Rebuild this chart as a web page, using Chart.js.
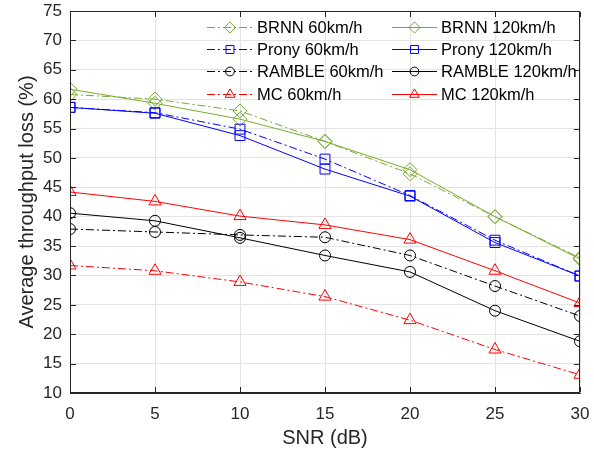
<!DOCTYPE html>
<html><head><meta charset="utf-8">
<script src="https://cdn.jsdelivr.net/npm/chart.js@4/dist/chart.umd.min.js"></script>
<style>html,body{margin:0;padding:0;background:#fff}#wrap{width:594px;height:452px}</style>
</head><body><div id="wrap"><canvas id="c" width="594" height="452"></canvas></div>
<script>
const snr = [0, 5, 10, 15, 20, 25, 30];
const brnn60 = [60.8, 60.0, 58.0, 52.8, 47.3, 40.0, 33.0];
const brnn120 = [61.7, 59.3, 56.6, 52.8, 48.0, 40.0, 32.8];
const prony60 = [58.6, 57.7, 54.9, 49.8, 43.6, 36.0, 29.9];
const prony120 = [58.6, 57.6, 53.8, 48.1, 43.5, 35.6, 29.9];
const ramble60 = [37.9, 37.4, 36.9, 36.5, 33.4, 28.2, 23.1];
const ramble120 = [40.6, 39.3, 36.4, 33.4, 30.6, 24.0, 18.8];
const mc60 = [31.7, 30.8, 28.9, 26.4, 22.4, 17.4, 13.1];
const mc120 = [44.2, 42.6, 40.1, 38.6, 36.1, 30.8, 25.3];
const yTicks = [10,15,20,25,30,35,40,45,50,55,60,65,70,75];

const GREEN = '#77AC30', BLUE = '#0000FF', BLACK = '#000000', RED = '#FF0000';
const DASHDOT = [8, 3, 2, 3];
const pts = arr => arr.map((v, i) => ({x: snr[i], y: v}));
function ds(label, arr, color, style, dashed, r) {
  return {label, data: pts(arr), borderColor: color, backgroundColor: color,
    borderWidth: 1, borderDash: dashed ? DASHDOT : [], pointStyle: style,
    pointRadius: r, pointBorderColor: color, pointBackgroundColor: 'rgba(0,0,0,0)',
    pointBorderWidth: 1, tension: 0, fill: false};
}
const datasets = [
  ds('BRNN 60km/h', brnn60, GREEN, 'rectRot', true, 7),
  ds('Prony 60km/h', prony60, BLUE, 'rect', true, 7),
  ds('RAMBLE 60km/h', ramble60, BLACK, 'circle', true, 5.5),
  ds('MC 60km/h', mc60, RED, 'triangle', true, 7),
  ds('BRNN 120km/h', brnn120, GREEN, 'rectRot', false, 7),
  ds('Prony 120km/h', prony120, BLUE, 'rect', false, 7),
  ds('RAMBLE 120km/h', ramble120, BLACK, 'circle', false, 5.5),
  ds('MC 120km/h', mc120, RED, 'triangle', false, 7),
];

const FONT = '"Liberation Sans", Arial, Helvetica, sans-serif';
const framePlugin = {
  id: 'frame',
  afterDraw(chart) {
    const ctx = chart.ctx, a = chart.chartArea;
    const L = Math.round(a.left), R = Math.round(a.right) - 1;
    const T = Math.round(a.top), B = Math.round(a.bottom) - 1;
    ctx.save();
    ctx.fillStyle = '#262626';
    ctx.fillRect(L, T, R - L + 1, 1);
    ctx.fillRect(L, B, R - L + 1, 1);
    ctx.fillRect(L, T, 1, B - T + 1);
    ctx.fillRect(R, T, 1, B - T + 1);
    const xs = chart.scales.x, ys = chart.scales.y, tl = 5;
    snr.forEach(v => {
      const px = Math.round(xs.getPixelForValue(v));
      ctx.fillRect(px, B - tl, 1, tl);
      ctx.fillRect(px, T + 1, 1, tl);
    });
    yTicks.forEach(v => {
      const py = Math.round(ys.getPixelForValue(v));
      ctx.fillRect(L + 1, py, tl, 1);
      ctx.fillRect(R - tl, py, tl, 1);
    });
    // legend
    const cols = [{x0: 207, x1: 253, tx: 257}, {x0: 392, x1: 437, tx: 441}];
    const rows = [27, 49, 71, 94];
    ctx.font = '16.5px ' + FONT; ctx.textBaseline = 'middle';
    chart.data.datasets.forEach((d, i) => {
      const c = cols[Math.floor(i / 4)], y = rows[i % 4] + 0.5;
      ctx.strokeStyle = d.borderColor; ctx.lineWidth = 1;
      ctx.setLineDash(d.borderDash);
      ctx.beginPath(); ctx.moveTo(c.x0, y); ctx.lineTo(c.x1, y); ctx.stroke();
      ctx.setLineDash([]);
      ctx.fillStyle = 'rgba(0,0,0,0)';
      ctx.strokeStyle = d.borderColor;
      Chart.helpers.drawPoint(ctx, {pointStyle: d.pointStyle, radius: d.pointRadius * 0.8, borderWidth: 1},
        (c.x0 + c.x1) / 2, y);
      ctx.fillStyle = '#000';
      ctx.fillText(d.label, c.tx, y + 1);
    });
    ctx.restore();
  }
};

new Chart(document.getElementById('c'), {
  type: 'line',
  data: {datasets},
  options: {
    responsive: false, animation: false, devicePixelRatio: 1,
    layout: {padding: {top: 11, right: 14, left: 0, bottom: 0}},
    plugins: {legend: {display: false}, tooltip: {enabled: false}},
    scales: {
      x: {type: 'linear', min: 0, max: 30,
        afterFit: s => { s.height = 59; s.paddingLeft = 0; s.paddingRight = 0; },
        ticks: {stepSize: 5, padding: 11, color: '#262626', font: {family: FONT, size: 17}},
        grid: {color: '#e3e3e3', drawTicks: false},
        border: {display: true, color: '#262626', width: 1},
        title: {display: true, text: 'SNR (dB)', color: '#262626', font: {family: FONT, size: 20}, padding: {top: 0, bottom: 2}}},
      y: {type: 'linear', min: 10, max: 75,
        afterFit: s => { s.width = 70; s.paddingTop = 0; s.paddingBottom = 0; },
        afterBuildTicks: s => { s.ticks = yTicks.map(v => ({value: v})); },
        ticks: {padding: 8, color: '#262626', font: {family: FONT, size: 17}},
        grid: {color: '#e3e3e3', drawTicks: false},
        border: {display: true, color: '#262626', width: 1},
        title: {display: true, text: 'Average throughput loss (%)', color: '#262626', font: {family: FONT, size: 20}, padding: {top: 15, bottom: 0}}}
    }
  },
  plugins: [framePlugin]
});
</script></body></html>
